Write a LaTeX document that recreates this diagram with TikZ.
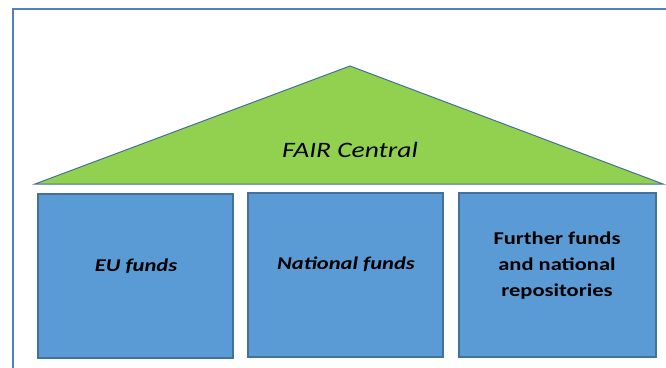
\documentclass[tikz,border=0pt]{standalone}
\usepackage{fontspec}
\setmainfont{Carlito}
\newfontfamily\widefont[FakeStretch=1.25]{Carlito}
\definecolor{boxblue}{HTML}{5B9BD5}
\definecolor{edgeblue}{HTML}{41719C}
\definecolor{roofgreen}{HTML}{92D050}
\definecolor{frameblue}{HTML}{4F81BD}
\tikzset{
	fund/.style={draw=edgeblue, fill=boxblue, line width=1.2pt, minimum height=164pt, inner sep=0pt},
	fundtext/.style={font=\widefont\fontsize{18}{26}\selectfont\bfseries, align=center}
}
\begin{document}
\begin{tikzpicture}[x=1pt, y=-1pt]
		\useasboundingbox (0, 0) rectangle (666, 367);

		\draw[frameblue, line width=2pt] (12.5, 370) -- (12.5, 8.5) -- (670, 8.5);

		\coordinate (apex) at (350, 66);
		\coordinate (roofL) at (35, 184);
		\coordinate (roofR) at (663, 184);
		\filldraw[fill=roofgreen, draw=edgeblue, line width=1pt] (roofL) -- (apex) -- (roofR) -- cycle;
		\node[font=\widefont\fontsize{22}{26}\selectfont\itshape] (central) at (350, 150) {FAIR Central};

		\node[fund, minimum width=195pt] (eu) at (135.5, 276) {};
		\node[fund, minimum width=195pt] (nat) at (345.5, 275) {};
		\node[fund, minimum width=197pt] (further) at (557.5, 275) {};

		\node[fundtext, font=\widefont\fontsize{18}{26}\selectfont\bfseries\itshape] (eutext) at (136, 266) {EU funds};
		\node[fundtext, font=\widefont\fontsize{18}{26}\selectfont\bfseries\itshape] (nattext) at (346, 264) {National funds};
		\node[fundtext] (furthertext) at (557, 266) {Further funds\\and national\\repositories};

	\end{tikzpicture}
\end{document}
